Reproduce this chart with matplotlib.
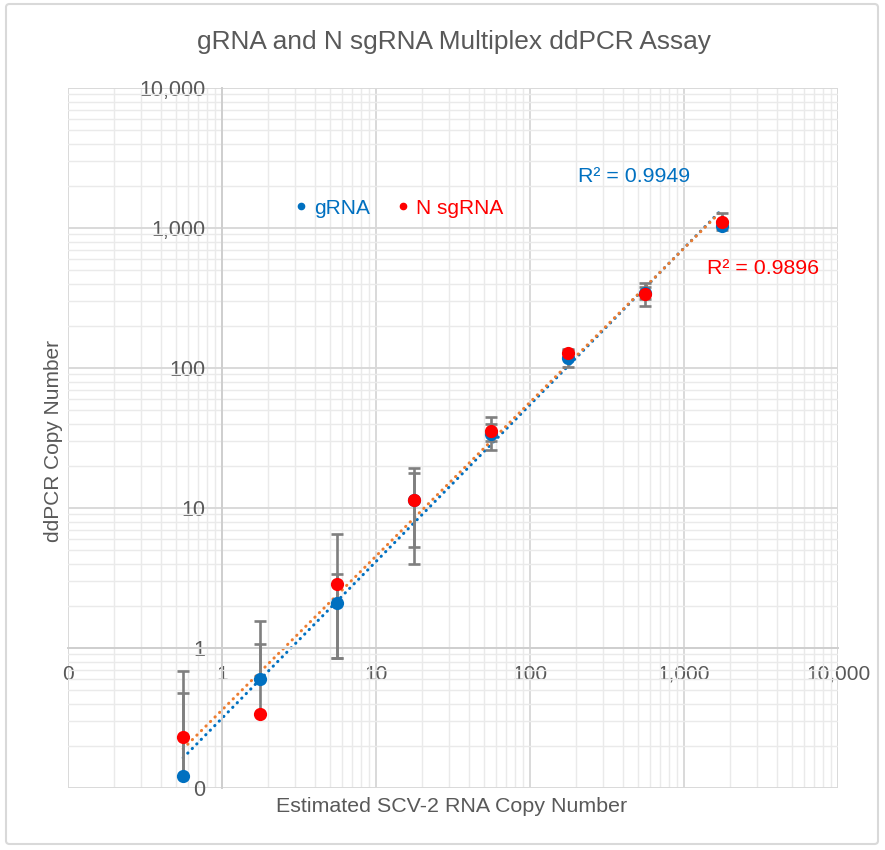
import numpy as np
import matplotlib
matplotlib.use("Agg")
import matplotlib.pyplot as plt
from matplotlib.ticker import FixedLocator, FuncFormatter, LogLocator, NullFormatter
from matplotlib.patches import FancyBboxPatch
from matplotlib.lines import Line2D

plt.rcParams['font.family'] = ['Liberation Sans', 'DejaVu Sans']

#%% data
copies = [0.56, 1.77, 5.6, 17.7, 56, 177, 560, 1770]

grna = [0.122, 0.60, 2.1, 11.5, 34, 117, 345, 1040]
grna_lo = [0.122, 0.60, 0.85, 5.3, 30, 101, 310, 960]
grna_hi = [0.477, 1.56, 3.4, 17.8, 40, 137, 380, 1130]

sgrna = [0.23, 0.34, 2.86, 11.4, 35.5, 128, 335, 1100]
sgrna_lo = [0.122, 0.34, 0.85, 3.98, 25.9, 120, 277, 1050]
sgrna_hi = [0.685, 1.07, 6.5, 19.3, 44.7, 134, 405, 1290]

r2_grna = 'R² = 0.9949'
r2_sgrna = 'R² = 0.9896'

tick_vals = [0.1, 1, 10, 100, 1000, 10000]
tick_labels = ['0', '1', '10', '100', '1,000', '10,000']

c_blue = '#0070C0'
c_red = '#FF0000'
c_orange = '#ED7D31'
c_text = '#595959'
c_err = '#7F7F7F'

#%% figure
W, H = 885, 850
fig = plt.figure(figsize=(W / 100, H / 100), dpi=100)
fig.patches.append(FancyBboxPatch((6 / W, 6 / H), 872 / W, 840 / H,
                                  boxstyle='round,pad=0,rounding_size=0.004',
                                  transform=fig.transFigure, facecolor='none',
                                  edgecolor='#D9D9D9', linewidth=1.5, zorder=-10))

ax = fig.add_axes([68 / W, 1 - 788 / H, 770 / W, 700 / H])
ax.set_facecolor('none')
ax.set_xscale('log')
ax.set_yscale('log')
ax.set_xlim(0.1, 10000)
ax.set_ylim(0.1, 10000)

# gridlines
ax.xaxis.set_major_locator(FixedLocator(tick_vals))
ax.yaxis.set_major_locator(FixedLocator(tick_vals))
ax.xaxis.set_minor_locator(LogLocator(base=10, subs=np.arange(2, 10), numticks=20))
ax.yaxis.set_minor_locator(LogLocator(base=10, subs=np.arange(2, 10), numticks=20))
ax.xaxis.set_minor_formatter(NullFormatter())
ax.yaxis.set_minor_formatter(NullFormatter())
ax.grid(which='major', color='#D9D9D9', linewidth=1.4, zorder=0)
ax.grid(which='minor', color='#EAEAEA', linewidth=1.0, zorder=0)
ax.set_axisbelow(True)

fmt = FuncFormatter(lambda v, p: tick_labels[tick_vals.index(min(tick_vals, key=lambda t: abs(np.log10(t) - np.log10(v))))])
ax.xaxis.set_major_formatter(fmt)
ax.yaxis.set_major_formatter(fmt)

# axes cross at 1
for s in ['top', 'right']:
    ax.spines[s].set_visible(False)
ax.spines['left'].set_position(('data', 1))
ax.spines['bottom'].set_position(('data', 1))
ax.spines['left'].set_color('#CFCFCF')
ax.spines['bottom'].set_color('#CFCFCF')
ax.spines['left'].set_linewidth(1.4)
ax.spines['bottom'].set_linewidth(1.4)
ax.tick_params(which='both', length=0)
ax.tick_params(axis='x', pad=12, labelsize=15, labelcolor=c_text)
ax.tick_params(axis='y', pad=12, labelsize=15.5, labelcolor=c_text)

#%% power trendlines (fit in log space like a spreadsheet power trend)
xs = np.array(copies)
xfit = np.logspace(np.log10(xs.min()), np.log10(xs.max()), 50)
for yv, col in [(grna, c_blue), (sgrna, c_orange)]:
    b, a = np.polyfit(np.log10(xs), np.log10(yv), 1)
    ax.plot(xfit, 10 ** a * xfit ** b, color=col, linewidth=2.2,
            linestyle=(0, (0.1, 2.0)), dash_capstyle='round', zorder=2)

#%% error bars
for yv, lo, hi in [(grna, grna_lo, grna_hi), (sgrna, sgrna_lo, sgrna_hi)]:
    yv = np.array(yv)
    yerr = [yv - np.array(lo), np.array(hi) - yv]
    ax.errorbar(xs, yv, yerr=yerr, fmt='none', ecolor=c_err, elinewidth=1.9,
                capsize=4.3, capthick=1.9, zorder=3)

ax.plot(xs, grna, 'o', color=c_blue, markersize=9.5, markeredgewidth=0, zorder=4)
ax.plot(xs, sgrna, 'o', color=c_red, markersize=9.5, markeredgewidth=0, zorder=5)

#%% legend and labels
handles = [Line2D([], [], marker='o', color=c_blue, linestyle='none', markersize=4.5),
           Line2D([], [], marker='o', color=c_red, linestyle='none', markersize=4.5)]
ax.legend(handles, ['gRNA', 'N sgRNA'], loc='center',
          bbox_to_anchor=((398 - 68) / 770, (788 - 208) / 700),
          ncol=2, frameon=False, fontsize=15, labelcolor=[c_blue, c_red],
          handletextpad=0.2, columnspacing=1.2, handlelength=0.8)

fig.text(578 / W, 1 - 177 / H, r2_grna, color=c_blue, fontsize=15.4, va='center', ha='left')
fig.text(707 / W, 1 - 269 / H, r2_sgrna, color=c_red, fontsize=15.4, va='center', ha='left')

fig.text(454 / W, 1 - 42 / H, 'gRNA and N sgRNA Multiplex ddPCR Assay', color=c_text,
         fontsize=18.9, ha='center', va='center')
fig.text(452 / W, 1 - 806 / H, 'Estimated SCV-2 RNA Copy Number', color=c_text,
         fontsize=15.4, ha='center', va='center')
fig.text(54 / W, 1 - 441 / H, 'ddPCR Copy Number', color=c_text, fontsize=15,
         ha='center', va='center', rotation=90)

plt.savefig('out.png', dpi=100)
